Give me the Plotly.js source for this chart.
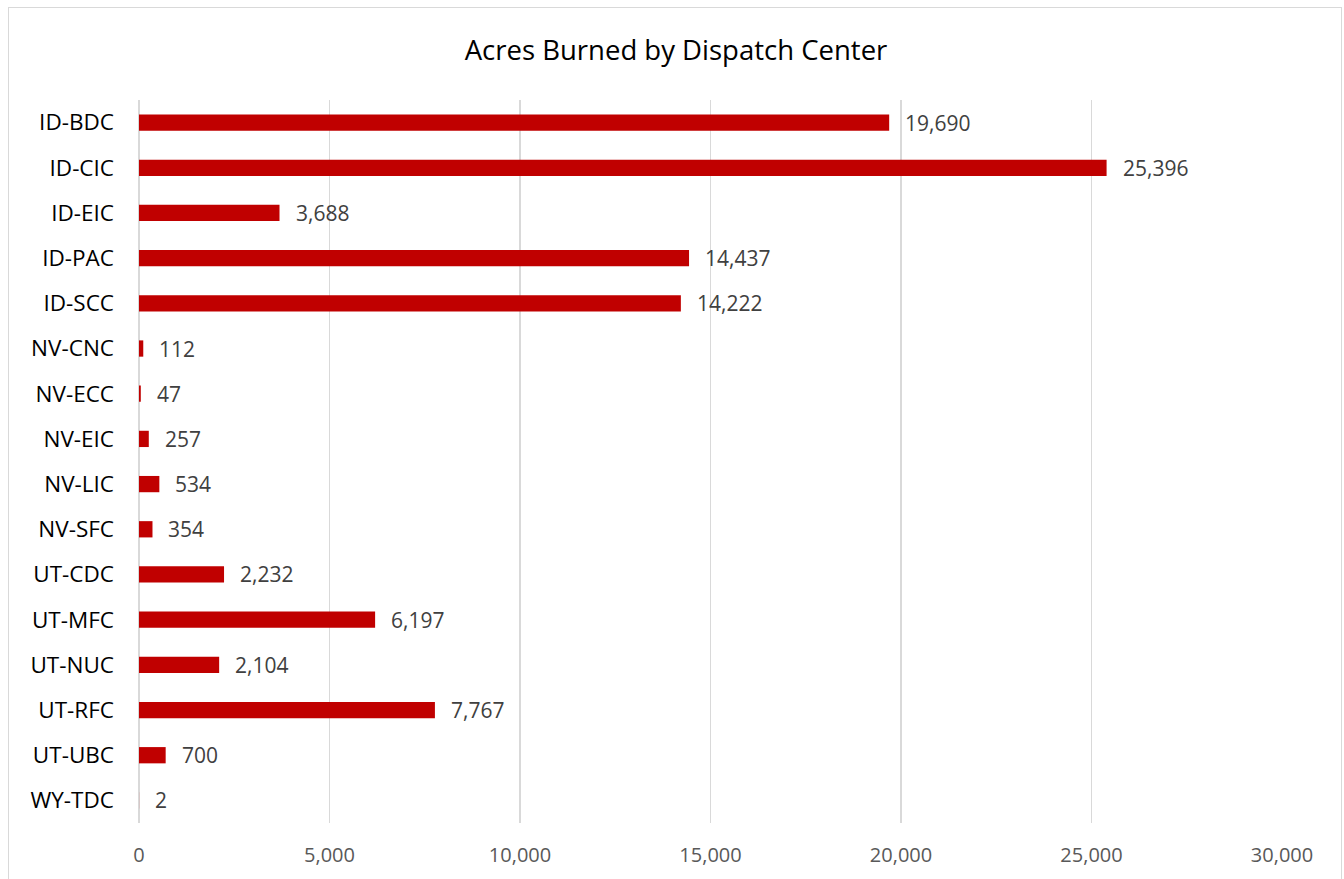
<!DOCTYPE html>
<html>
<head>
<meta charset="utf-8">
<script src="https://cdn.plot.ly/plotly-3.0.1.min.js"></script>
<style>
  html, body { margin: 0; padding: 0; background: #fff; }
  #wrap { position: relative; width: 1344px; height: 879px; }
  #chart { position: absolute; left: 0; top: 0; width: 1344px; height: 879px; }
  #frame { position: absolute; left: 8px; top: 7px; width: 1334px; height: 900px;
           border: 1.5px solid #D9D9D9; box-sizing: border-box; pointer-events: none; }
</style>
</head>
<body>
<div id="wrap">
  <div id="chart"></div>
  <div id="frame"></div>
</div>
<script>
const categories = ["ID-BDC","ID-CIC","ID-EIC","ID-PAC","ID-SCC","NV-CNC","NV-ECC","NV-EIC",
                    "NV-LIC","NV-SFC","UT-CDC","UT-MFC","UT-NUC","UT-RFC","UT-UBC","WY-TDC"];
const acres = [19690, 25396, 3688, 14437, 14222, 112, 47, 257, 534, 354, 2232, 6197, 2104, 7767, 700, 2];
const xTicks = [0, 5000, 10000, 15000, 20000, 25000, 30000];
const xTickLabels = ["0","5,000","10,000","15,000","20,000","25,000","30,000"];
const chartTitle = "Acres Burned by Dispatch Center";

const FONT = "Open Sans, Lato, sans-serif";

const trace = {
  type: "bar",
  orientation: "h",
  x: acres,
  y: categories,
  marker: { color: "#C00000" },
  hoverinfo: "x+y"
};

const annotations = acres.map((v, i) => ({
  x: v, y: categories[i], xref: "x", yref: "y",
  text: v.toLocaleString("en-US"),
  showarrow: false, xanchor: "left", yanchor: "middle",
  xshift: 14,
  font: { family: FONT, size: 21, color: "#404040" }
}));

const layout = {
  width: 1344, height: 879,
  margin: { l: 139, r: 62, t: 100, b: 56 },
  paper_bgcolor: "#ffffff",
  plot_bgcolor: "#ffffff",
  showlegend: false,
  bargap: 0.64,
  title: {
    text: chartTitle,
    x: 0.503, xref: "container", xanchor: "center",
    y: 0.943, yref: "container", yanchor: "middle",
    font: { family: FONT, size: 27.5, color: "#000000" }
  },
  xaxis: {
    range: [0, 30000],
    tickvals: xTicks,
    ticktext: xTickLabels,
    showgrid: true,
    gridcolor: "#D9D9D9",
    gridwidth: 1.5,
    zeroline: true,
    zerolinecolor: "#D9D9D9",
    zerolinewidth: 1.5,
    showline: false,
    ticks: "",
    ticklabelstandoff: 18,
    tickfont: { family: FONT, size: 20, color: "#595959" },
    fixedrange: true
  },
  yaxis: {
    autorange: "reversed",
    type: "category",
    showgrid: false,
    zeroline: false,
    showline: false,
    ticks: "",
    ticklabelstandoff: 24,
    tickfont: { family: FONT, size: 22.5, color: "#000000" },
    fixedrange: true
  },
  annotations: annotations
};

Plotly.newPlot("chart", [trace], layout, { displayModeBar: false, staticPlot: true });
</script>
</body>
</html>
